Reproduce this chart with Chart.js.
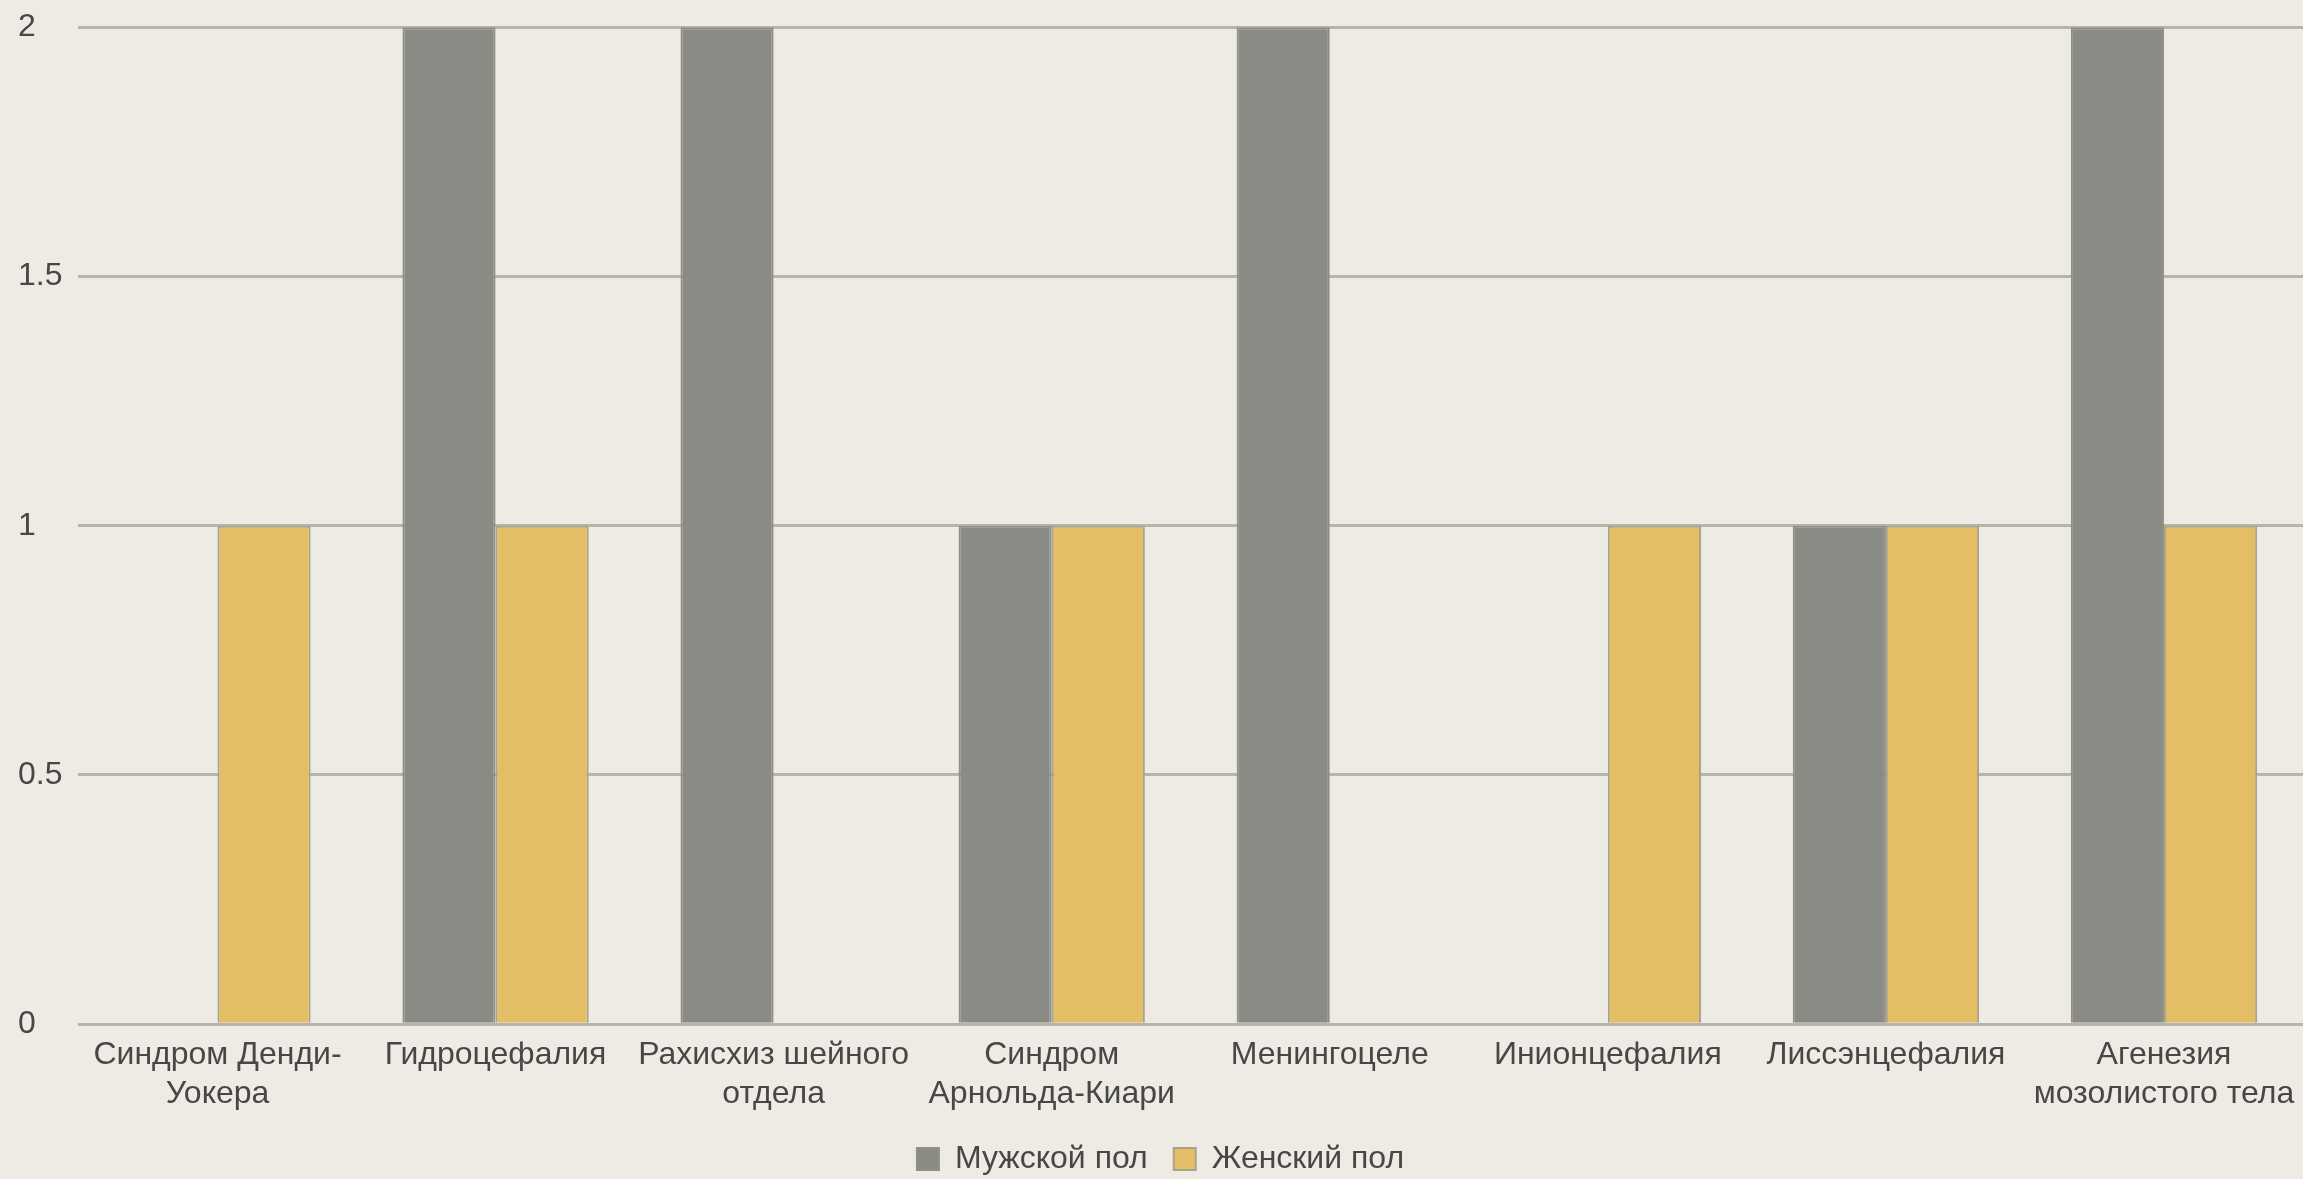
<!DOCTYPE html>
<html>
<head>
<meta charset="utf-8">
<script src="https://cdn.jsdelivr.net/npm/chart.js@4.4.1/dist/chart.umd.min.js"></script>
<style>
	html, body { margin: 0; padding: 0; background: #eeebe4; }
	#wrap { width: 2303px; height: 1179px; }
</style>
</head>
<body>
<div id="wrap"><canvas id="myChart" width="2303" height="1179"></canvas></div>
<script>
'use strict';
// *** Data ***
const aryCategories = [
	['Синдром Денди-', 'Уокера'],
	'Гидроцефалия',
	['Рахисхиз шейного', 'отдела'],
	['Синдром', 'Арнольда-Киари'],
	'Менингоцеле',
	'Инионцефалия',
	'Лиссэнцефалия',
	['Агенезия', 'мозолистого тела'],
];
const aryMale = [0, 2, 2, 1, 2, 0, 1, 2];
const aryFemale = [1, 1, 0, 1, 0, 1, 1, 1];
const aryYTicks = [0, 0.5, 1, 1.5, 2];

const textFont = { family: "'Liberation Sans', Arial, sans-serif", size: 32, lineHeight: 1.2 };
const textColor = '#474747';

function prepareDataSets() {
	let aryDataSets = [];
	aryDataSets.push({
		label: 'Мужской пол',
		backgroundColor: '#8a8b84',
		borderColor: '#8f8f86',
		borderWidth: 2,
		data: aryMale,
	});
	aryDataSets.push({
		label: 'Женский пол',
		backgroundColor: '#e4be66',
		borderColor: '#aba389',
		borderWidth: 2,
		data: aryFemale,
	});
	return aryDataSets;
}

function prepareOptions() {
	return {
		responsive: false,
		animation: false,
		layout: { padding: { top: 17, left: 18, right: 0, bottom: -6 } },
		datasets: {
			bar: { categoryPercentage: 0.67, barPercentage: 1.0 },
		},
		scales: {
			x: {
				grid: { display: false },
				border: { display: false },
				ticks: {
					color: textColor,
					font: textFont,
					padding: 4,
					maxRotation: 0,
					autoSkip: false,
				},
			},
			y: {
				min: 0,
				max: 2,
				afterBuildTicks: (axis) => {
					axis.ticks = aryYTicks.map((v) => ({ value: v }));
				},
				grid: { color: '#b6b4ac', lineWidth: 3, drawTicks: false },
				border: { display: false },
				ticks: {
					color: textColor,
					font: textFont,
					crossAlign: 'far',
					padding: 8,
					callback: (value) => String(value),
				},
			},
		},
		plugins: {
			legend: {
				position: 'bottom',
				labels: {
					color: textColor,
					font: textFont,
					boxWidth: 22,
					boxHeight: 22,
					padding: 26,
				},
			},
			tooltip: { enabled: false },
		},
	};
}

function chartIt() {
	const config = {
		type: 'bar',
		data: {
			labels: aryCategories,
			datasets: prepareDataSets(),
		},
		options: prepareOptions(),
	};
	return new Chart(document.getElementById('myChart'), config);
}

// *** Entry Point ***
chartIt();
</script>
</body>
</html>
